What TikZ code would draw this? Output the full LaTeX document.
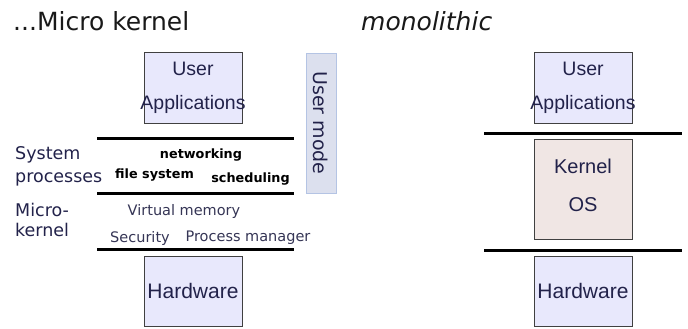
\documentclass[tikz,border=0pt]{standalone}
\usepackage{fontspec}
\setmainfont{DejaVu Sans}
\newfontfamily\arialfont{Liberation Sans}
\usetikzlibrary{calc}
\usetikzlibrary{positioning}

\definecolor{navy}{HTML}{22224A}
\definecolor{appfill}{HTML}{E8E8FC}
\definecolor{kernfill}{HTML}{F0E6E4}
\definecolor{boxline}{HTML}{404040}
\definecolor{modefill}{HTML}{DCE0EE}
\definecolor{modeline}{HTML}{B4C4E4}

\begin{document}
\begin{tikzpicture}[x=1pt, y=-1pt,
    box/.style={rectangle, draw=boxline, fill=appfill, line width=0.9pt, minimum width=98pt, minimum height=71pt, inner sep=0pt, align=center, text=navy},
    layer/.style={line width=3pt, black},
    tag/.style={inner sep=0pt, text=navy},
    part/.style={inner sep=0pt, text=black, font=\bfseries\fontsize{12.8}{15}\selectfont},
    service/.style={inner sep=0pt, text=navy!80!gray, font=\fontsize{14.5}{17}\selectfont}]
            \useasboundingbox (0,0) rectangle (688,329);
            % titles
            \node[anchor=base west, inner sep=0pt, text=black!90, font=\fontsize{25}{30}\selectfont] (micro) at (13,31) {...Micro kernel};
            \node[anchor=base west, inner sep=0pt, text=black!90, font=\itshape\fontsize{25}{30}\selectfont] (mono) at (361,31) {monolithic};
            % micro kernel side
            \node[box, font=\arialfont\fontsize{19.5}{34}\selectfont] (apps) at (193,87.5) {User\\\makebox[0pt]{Applications}};
            \node[box, minimum height=70pt, font=\arialfont\fontsize{21}{25}\selectfont] (hw) at (193,291) {Hardware};
            \node[rectangle, draw=modeline, fill=modefill, line width=0.8pt, rotate=-90, minimum width=140pt, minimum height=30pt, inner sep=0pt, text=navy, font=\fontsize{19}{23}\selectfont] (mode) at (321,123) {User mode};
            \foreach \y[count=\i from 1] in {138, 193, 249}
            {
                \coordinate (L\i) at (97,\y);
                \coordinate (R\i) at (294,\y);
                \draw[layer] (L\i) -- (R\i);
            }
            \node[tag, anchor=west, align=left, font=\fontsize{17.5}{23}\selectfont] (sysproc) at (15,166.5) {System\\processes};
            \node[tag, anchor=west, align=left, font=\fontsize{17.5}{20}\selectfont] (mk) at (15,220) {Micro-\\kernel};
            \node[part] (net) at (201,155) {networking};
            \node[part] (fs) at (154.5,175) {file system};
            \node[part] (sched) at (250.5,179) {scheduling};
            \node[service] (vm) at (184,211) {Virtual memory};
            \node[service] (sec) at (140,238) {Security};
            \node[service] (pm) at (248,238) {Process manager};
            % monolithic side
            \node[box, font=\arialfont\fontsize{19.5}{34}\selectfont] (apps2) at (583,87.5) {User\\\makebox[0pt]{Applications}};
            \node[box, fill=kernfill, minimum height=100pt, text depth=8pt, font=\arialfont\fontsize{20}{38}\selectfont] (kern) at (583,189) {Kernel\\OS};
            \node[box, minimum height=70pt, font=\arialfont\fontsize{21}{25}\selectfont] (hw2) at (583,291) {Hardware};
            \foreach \y[count=\i from 1] in {133, 250}
            {
                \coordinate (ML\i) at (484,\y);
                \coordinate (MR\i) at (682,\y);
                \draw[layer] (ML\i) -- (MR\i);
            }
        \end{tikzpicture}
\end{document}
